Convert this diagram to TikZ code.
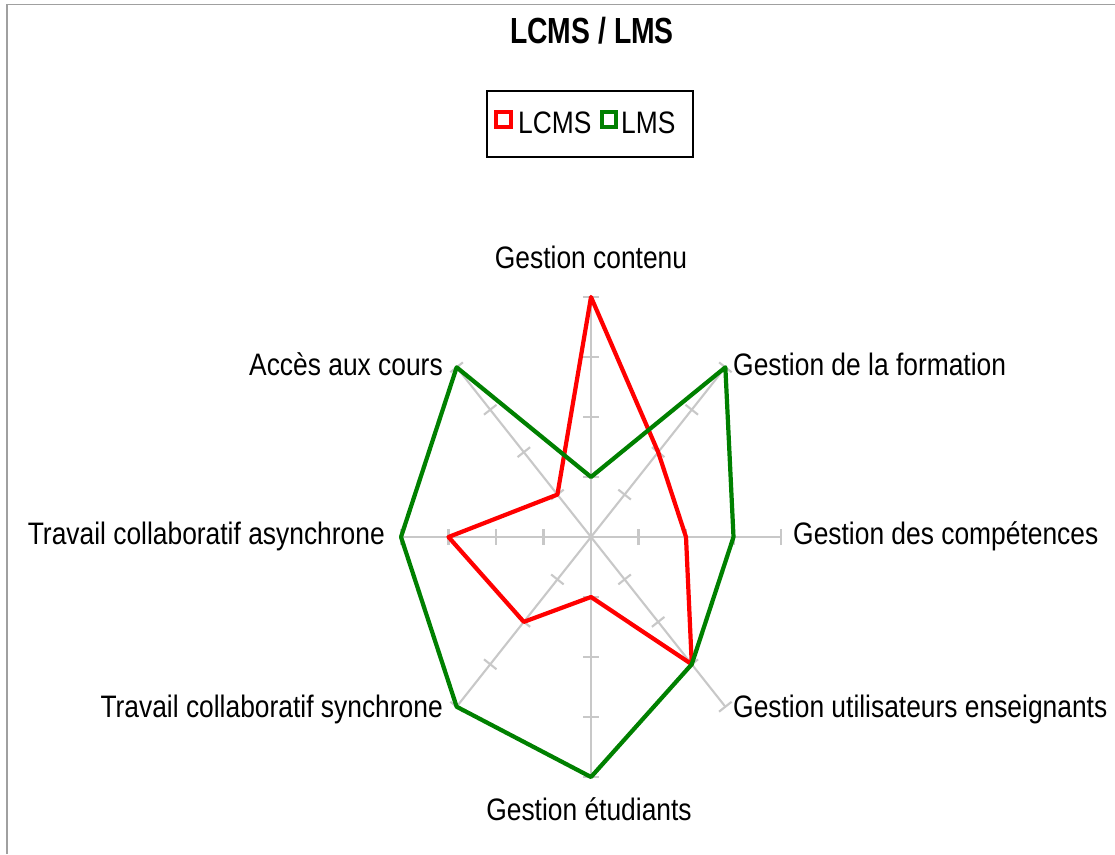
\documentclass[tikz,border=0pt]{standalone}
\usepackage{fontspec}
\setmainfont{Liberation Sans}
\usetikzlibrary{calc, positioning}
\definecolor{lcmsRed}{RGB}{255,0,0}
\definecolor{lmsGreen}{RGB}{0,128,0}
\definecolor{axisGray}{RGB}{200,200,200}
\definecolor{frameGray}{RGB}{160,160,160}
\newcommand{\narrowtxt}[1]{\scalebox{0.85}[1]{#1}}

\begin{document}
\begin{tikzpicture}[x=0.03cm, y=-0.03cm,
    axislabel/.style={inner sep=0pt, font=\fontsize{26.5}{30}\selectfont},
    axisline/.style={axisGray, line width=1.8pt},
    serie/.style={line width=3.6pt, line join=round}]
    \useasboundingbox (0,0) rectangle (1115,854);

    % Frame (top and left edge)
    \draw[frameGray, line width=1.6pt] (7,854) -- (7,4.5) -- (1115,4.5);

    % Title
    \node[inner sep=0pt, anchor=base, font=\bfseries\fontsize{31}{36}\selectfont] (titre) at (592,43) {\scalebox{0.78}[1]{LCMS / LMS}};

    % Legend
    \coordinate (legSW) at (487,157);
    \coordinate (legNE) at (693,91);
    \draw[line width=2pt] (legSW) rectangle (legNE);
    \draw[lcmsRed, line width=3.6pt] (496,112) rectangle (511,127);
    \node[axislabel, anchor=base west] (legLcms) at (518,133) {\narrowtxt{LCMS}};
    \draw[lmsGreen, line width=3.6pt] (602,112) rectangle (616,127);
    \node[axislabel, anchor=base west] (legLms) at (621,133) {\narrowtxt{LMS}};

    % Radar axes, 8 directions, 4 ticks each
    \coordinate (O) at (591,537);
    \foreach \k in {0,...,7} {
        \coordinate (A\k) at ({591+190*sin(45*\k)}, {537-240*cos(45*\k)});
        \draw[axisline] (O) -- (A\k);
        \foreach \t in {0.25,0.5,0.75,1} {
            \coordinate (p) at ($(O)!\t!(A\k)$);
            \draw[axisline] ($(p)!0.24cm!90:(O)$) -- ($(p)!0.24cm!-90:(O)$);
        }
    }

    % Data points (scale 0..4)
    \foreach \v [count=\k from 0] in {4,2,2,3,1,2,3,1}
        \coordinate (L\k) at ($(O)!\v/4!(A\k)$);
    \foreach \v [count=\k from 0] in {1,4,3,3,4,4,4,4}
        \coordinate (M\k) at ($(O)!\v/4!(A\k)$);

    % Series
    \draw[serie, lcmsRed] (L0) -- (L1) -- (L2) -- (L3) -- (L4) -- (L5) -- (L6) -- (L7) -- cycle;
    \draw[serie, lmsGreen] (M0) -- (M1) -- (M2) -- (M3) -- (M4) -- (M5) -- (M6) -- (M7) -- cycle;

    % Axis labels
    \node[axislabel, anchor=base] (contenu) at (591,268) {\narrowtxt{Gestion contenu}};
    \node[axislabel, anchor=base west] (formation) at (733,375) {\narrowtxt{Gestion de la formation}};
    \node[axislabel, anchor=base west] (competences) at (793,544) {\narrowtxt{Gestion des compétences}};
    \node[axislabel, anchor=base west] (enseignants) at (733,717) {\narrowtxt{Gestion utilisateurs enseignants}};
    \node[axislabel, anchor=base] (etudiants) at (589,820) {\narrowtxt{Gestion étudiants}};
    \node[axislabel, anchor=base east] (synchrone) at (443,717) {\narrowtxt{Travail collaboratif synchrone}};
    \node[axislabel, anchor=base east] (asynchrone) at (385,544) {\narrowtxt{Travail collaboratif asynchrone}};
    \node[axislabel, anchor=base east] (acces) at (443,375) {\narrowtxt{Accès aux cours}};
\end{tikzpicture}
\end{document}
